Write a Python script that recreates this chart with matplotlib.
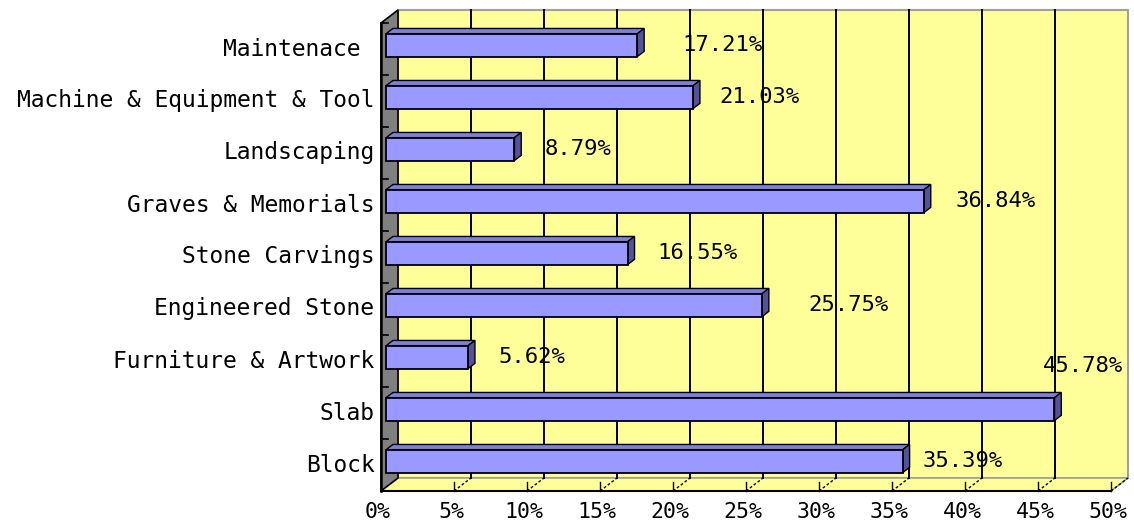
import matplotlib.pyplot as plt
from matplotlib.patches import Polygon, Rectangle

# --- data (bottom to top) ---
categories = ["Block", "Slab", "Furniture & Artwork", "Engineered Stone",
              "Stone Carvings", "Graves & Memorials", "Landscaping",
              "Machine & Equipment & Tool", "Maintenace "]
values = [35.39, 45.78, 5.62, 25.75, 16.55, 36.84, 8.79, 21.03, 17.21]
value_labels = ["35.39%", "45.78%", "5.62%", "25.75%", "16.55%",
                "36.84%", "8.79%", "21.03%", "17.21%"]
x_ticks = [0, 5, 10, 15, 20, 25, 30, 35, 40, 45, 50]
x_tick_labels = [f"{t}%" for t in x_ticks]

# label placement (as in the source chart), in axis units
label_dx = [1.73, -0.44, 2.39, 3.50, 2.35, 2.48, 2.44, 2.12, 3.41]
label_dy = [0.0, 0.83, 0.0, 0.0, 0.0, 0.0, 0.0, 0.0, 0.0]

# --- colours / 3d look ---
wall_yellow = "#FFFF99"
side_grey = "#808080"
bar_front = "#9999FF"
bar_top = "#7F7FDD"
bar_side = "#535399"
DX, DY = 1.164, 0.25      # depth offset of the back wall
A, B = 0.30, 0.70         # bar depth range (fraction of wall depth)
H = 0.44                  # bar thickness

font = "DejaVu Sans Mono"

fig = plt.figure(figsize=(11.34, 5.22), dpi=100)
ax = fig.add_axes([381 / 1134, 31 / 522, 730 / 1134, 468 / 522])
ax.set_xlim(0, 50)
ax.set_ylim(-0.5, 8.5)
ax.axis("off")

n = len(categories)
y0, y1 = -0.5, n - 0.5

# back wall
ax.add_patch(Rectangle((DX, y0 + DY), 50, n, facecolor=wall_yellow,
                       edgecolor="#A0A0A0", lw=1.5, clip_on=False, zorder=1))
# floor
ax.add_patch(Polygon([(0, y0), (50, y0), (50 + DX, y0 + DY), (DX, y0 + DY)],
                     closed=True, facecolor=wall_yellow, edgecolor="#A0A0A0",
                     lw=1.2, clip_on=False, zorder=1))
ax.plot([0, 50], [y0, y0], color="black", lw=1.5, clip_on=False, zorder=2)
# left wall
ax.add_patch(Polygon([(0, y0), (DX, y0 + DY), (DX, y1 + DY), (0, y1)],
                     closed=True, facecolor=side_grey, edgecolor="black",
                     lw=1.2, clip_on=False, zorder=1.2))
ax.plot([0, 0], [y0, y1], color="black", lw=1.8, clip_on=False, zorder=2)

# gridlines on back wall and floor
for t in x_ticks[1:-1]:
    ax.plot([t + DX, t + DX], [y0 + DY, y1 + DY], color="black", lw=1.4,
            clip_on=False, zorder=2)
for t in x_ticks[1:]:
    ax.plot([t, t + DX], [y0, y0 + DY], color="black", lw=1.0, ls=(0, (2, 1.5)),
            clip_on=False, zorder=2)
    ax.plot([t, t], [y0, y0 + DY * 0.7], color="black", lw=1.0,
            clip_on=False, zorder=2)

# ticks on the left wall at category boundaries
for k in range(n + 1):
    yb = y0 + k
    ax.plot([0, DX * 0.4], [yb, yb], color="black", lw=1.2, clip_on=False, zorder=2)

# bars
for i, v in enumerate(values):
    yc = i
    bot = yc - H / 2
    top = yc + H / 2
    front = Polygon([(A * DX, bot + A * DY), (v + A * DX, bot + A * DY),
                     (v + A * DX, top + A * DY), (A * DX, top + A * DY)],
                    closed=True, facecolor=bar_front, edgecolor="black",
                    lw=1.3, clip_on=False, zorder=4)
    topf = Polygon([(A * DX, top + A * DY), (v + A * DX, top + A * DY),
                    (v + B * DX, top + B * DY), (B * DX, top + B * DY)],
                   closed=True, facecolor=bar_top, edgecolor="black",
                   lw=1.0, clip_on=False, zorder=3.9)
    side = Polygon([(v + A * DX, bot + A * DY), (v + B * DX, bot + B * DY),
                    (v + B * DX, top + B * DY), (v + A * DX, top + A * DY)],
                   closed=True, facecolor=bar_side, edgecolor="black",
                   lw=1.0, clip_on=False, zorder=3.9)
    ax.add_patch(topf)
    ax.add_patch(side)
    ax.add_patch(front)
    # value label (sits under the gridlines, as in the source)
    ax.text(v + label_dx[i], yc + A * DY + label_dy[i], value_labels[i],
            ha="left", va="center", fontsize=16, family=font, zorder=1.5,
            clip_on=False)

# category labels
for i, c in enumerate(categories):
    ax.text(-0.45, i, c, ha="right", va="center", fontsize=16.5, family=font,
            clip_on=False)

# x tick labels
for t, lab in zip(x_ticks, x_tick_labels):
    ax.text(t - 0.2, y0 - 0.4, lab, ha="center", va="center", fontsize=15.5,
            family=font, clip_on=False)

fig.savefig("out.png", dpi=100)
